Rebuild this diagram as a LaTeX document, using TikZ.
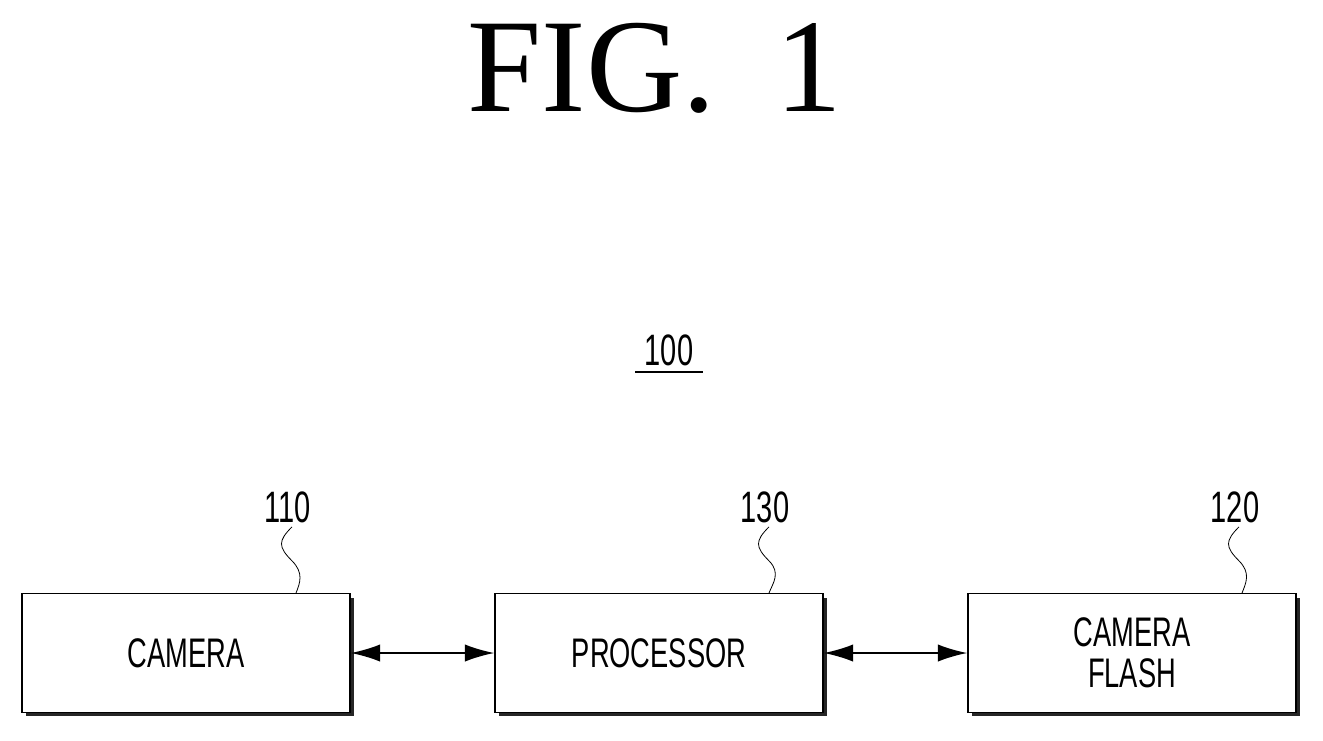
\documentclass[tikz,border=0pt]{standalone}
\usepackage{fontspec}
\setmainfont{Liberation Serif}
\newfontfamily\labelfont[FakeStretch=0.66]{Liberation Sans}
\usetikzlibrary{positioning,arrows.meta}
\tikzset{
  block/.style={draw, line width=1.2pt, fill=white, minimum width=246pt, minimum height=89pt,
    font=\labelfont\fontsize{31}{33}\selectfont, align=center, inner sep=0pt},
  shade/.style={fill=black!85},
  link/.style={line width=1.2pt, {Latex[length=22pt,width=13pt]}-{Latex[length=22pt,width=13pt]}},
  refnum/.style={font=\labelfont\fontsize{33}{33}\selectfont, inner sep=0pt},
  lead/.style={line width=0.6pt}
}
\begin{document}
\begin{tikzpicture}[x=0.75pt,y=-0.75pt]
    \useasboundingbox (0,0) rectangle (1323,740);
    % Title
    \node (title) at (655,68) {\fontsize{100}{100}\selectfont FIG.\hspace{0.45em}1};
    % Device number
    \node[refnum] (dev) at (669,350) {100};
    \draw[line width=1.2pt] (635,372) -- (703,372);
    % Shadows
    \foreach \x in {22,495,968}
        \fill[shade] (\x+4,598) rectangle (\x+332,716);
    % Blocks
    \node[block] (camera) at (186,653) {CAMERA};
    \node[block] (proc) at (659,653) {PROCESSOR};
    \node[block] (flash) at (1132,653) {CAMERA\\[-2pt]FLASH};
    % Links
    \draw[link] (camera.east) -- (proc.west);
    \draw[link] (proc.east) -- (flash.west);
    % Reference numbers
    \node[refnum] (n110) at (288,507) {110};
    \node[refnum] (n130) at (765,507) {130};
    \node[refnum] (n120) at (1235,507) {120};
    \foreach \n/\b/\x in {n110/camera/296,n130/proc/769,n120/flash/1242}
        \draw[lead] (\n.south) ++(4,4) .. controls +(-14,14) and +(-14,-14) .. +(0,34)
            .. controls +(12,12) and +(4,-10) .. (\x,593);
\end{tikzpicture}
\end{document}
